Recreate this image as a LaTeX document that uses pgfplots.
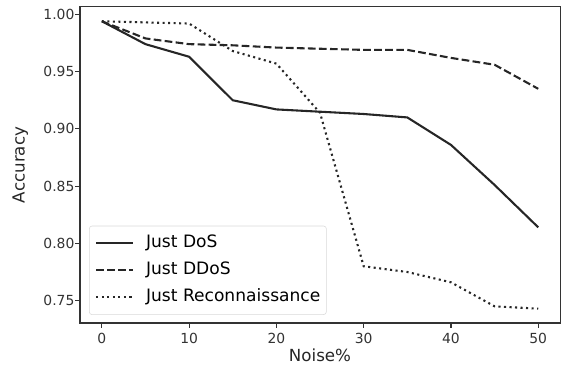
\documentclass[border=0pt]{standalone}
\usepackage{fontspec}
\setmainfont{DejaVu Sans}
\usepackage{pgfplots}
\pgfplotsset{compat=1.18}
\usetikzlibrary{calc}
\begin{document}
\begin{tikzpicture}
\begin{axis}[
  scale only axis,
  width=345.6bp, height=227.5bp,
  xmin=-2.5, xmax=52.5,
  ymin=0.7305, ymax=1.0065,
  xtick={0,10,20,30,40,50},
  ytick={0.75,0.80,0.85,0.90,0.95,1.00},
  yticklabel style={xshift=3bp, /pgf/number format/.cd, fixed, fixed zerofill, precision=2},
  /pgf/number format/assume math mode=true,
  tick label style={font=\fontsize{10bp}{12bp}\selectfont, color=black!80},
  tick align=outside, tick pos=left,
  major tick length=3.5bp,
  every tick/.style={black!80, line width=0.8bp},
  axis line style={black!80, line width=0.8bp},
  xlabel={Noise\%}, ylabel={Accuracy},
  every axis x label/.style={at={(axis description cs:0.5,-0.101)}, anchor=center, font=\fontsize{12bp}{14bp}\selectfont, color=black!85},
  every axis y label/.style={at={(axis description cs:-0.1244,0.5)}, anchor=center, rotate=90, font=\fontsize{12bp}{14bp}\selectfont, color=black!85},
  legend cell align=left,
  legend style={font=\fontsize{12.3bp}{14.5bp}\selectfont, draw=black!15, rounded corners=2bp,
    inner xsep=4.3bp, inner ysep=4.5bp,
    nodes={inner xsep=0bp, inner ysep=2bp, text height=9bp, text depth=3bp},
    column sep=8.5bp, row sep=3.4bp,
    at={(axis description cs:0.0188,0.0255)}, anchor=south west},
  legend image code/.code={\draw[#1] (0bp,0bp) -- (26.6bp,0bp);},
]
\addplot[black!85, line width=1.5bp] coordinates {
(0,0.994) (5,0.974) (10,0.963) (15,0.925) (20,0.917) (25,0.915) (30,0.913) (35,0.910) (40,0.886) (45,0.851) (50,0.814)};
\addlegendentry{Just DoS}
\addplot[black!85, line width=1.5bp, dash pattern=on 5.55bp off 2.4bp] coordinates {
(0,0.994) (5,0.979) (10,0.974) (15,0.973) (20,0.971) (25,0.970) (30,0.969) (35,0.969) (40,0.962) (45,0.956) (50,0.935)};
\addlegendentry{Just DDoS}
\addplot[black!85, line width=1.5bp, dash pattern=on 1.5bp off 2.475bp] coordinates {
(0,0.994) (5,0.993) (10,0.992) (15,0.968) (20,0.957) (25,0.914) (30,0.780) (35,0.775) (40,0.766) (45,0.745) (50,0.743)};
\addlegendentry{Just Reconnaissance}
\end{axis}
\pgfresetboundingbox
\path ($(current axis.south west)+(-57.6bp,-35.3bp)$) rectangle ($(current axis.north east)+(1.4bp,5bp)$);
\end{tikzpicture}
\end{document}
